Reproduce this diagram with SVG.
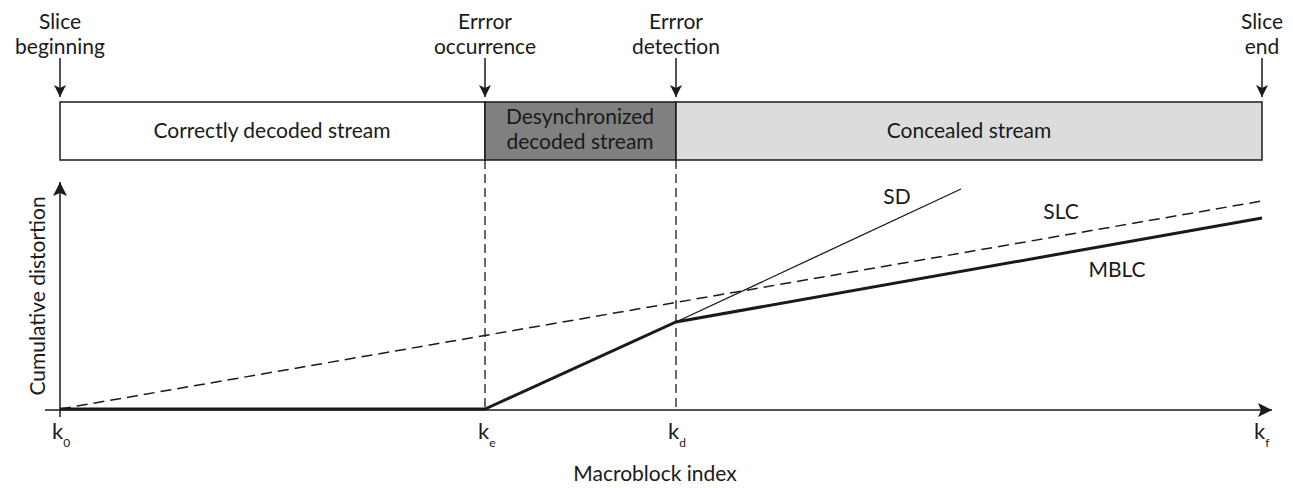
<svg xmlns="http://www.w3.org/2000/svg" width="1293" height="488" viewBox="0 0 1293 488">
<defs>
<marker id="ah" viewBox="0 0 12 12" refX="12" refY="6" markerWidth="12" markerHeight="12" markerUnits="userSpaceOnUse" orient="auto">
<path d="M0,0 L12,6 L0,12 L3,6 Z" fill="#1a1a1a"/>
</marker>
<marker id="ahs" viewBox="0 0 14 14" refX="14" refY="7" markerWidth="14" markerHeight="14" markerUnits="userSpaceOnUse" orient="auto">
<path d="M0,0 L14,7 L0,14 L3,7 Z" fill="#1a1a1a"/>
</marker>
</defs>
<style>
text{font-family:Lato,"Open Sans","Liberation Sans",sans-serif;fill:#1a1a1a;font-size:21px}
.c{text-anchor:middle}
.k{font-size:22px}
.sub{font-size:12px}
.ln{stroke:#1a1a1a;fill:none}
.box{stroke:#1a1a1a;stroke-width:1.5}
</style>
<rect width="1293" height="488" fill="#fff"/>

<g id="bar-correct">
<rect class="box" x="60" y="102" width="425" height="58" fill="#fff"/>
<text class="c" x="272" y="138">Correctly decoded stream</text>
</g>
<g id="bar-desync">
<rect class="box" x="485" y="102" width="191" height="58" fill="#808080"/>
<text class="c" x="580" y="124">Desynchronized</text>
<text class="c" x="580" y="149">decoded stream</text>
</g>
<g id="bar-concealed">
<rect class="box" x="676" y="102" width="586" height="58" fill="#dcdcdc"/>
<text class="c" x="969" y="138">Concealed stream</text>
</g>

<g id="label-slice-begin">
<text class="c" x="60" y="29">Slice</text>
<text class="c" x="60" y="54">beginning</text>
</g>
<g id="label-error-occ">
<text class="c" x="485" y="29">Errror</text>
<text class="c" x="485" y="54">occurrence</text>
</g>
<g id="label-error-det">
<text class="c" x="676" y="29">Errror</text>
<text class="c" x="676" y="54">detection</text>
</g>
<g id="label-slice-end">
<text class="c" x="1262" y="29">Slice</text>
<text class="c" x="1262" y="54">end</text>
</g>

<g id="connectors">
<line class="ln" x1="60" y1="58" x2="60" y2="97" stroke-width="1.5" marker-end="url(#ah)"/>
<line class="ln" x1="485" y1="58" x2="485" y2="97" stroke-width="1.5" marker-end="url(#ah)"/>
<line class="ln" x1="676" y1="58" x2="676" y2="97" stroke-width="1.5" marker-end="url(#ah)"/>
<line class="ln" x1="1262" y1="58" x2="1262" y2="97" stroke-width="1.5" marker-end="url(#ah)"/>
<line class="ln" x1="485" y1="160" x2="485" y2="409" stroke-width="1.3" stroke-dasharray="9,5"/>
<line class="ln" x1="676" y1="160" x2="676" y2="409" stroke-width="1.3" stroke-dasharray="9,5"/>
</g>

<g id="axes">
<line class="ln" x1="60" y1="417" x2="60" y2="182" stroke-width="1.5" marker-end="url(#ahs)"/>
<line class="ln" x1="45" y1="410" x2="1272" y2="410" stroke-width="1.5" marker-end="url(#ahs)"/>
<text class="c" transform="translate(45,296) rotate(-90)">Cumulative distortion</text>
<text class="c" x="655" y="481">Macroblock index</text>
<text class="k" x="52" y="439">k<tspan class="sub" dy="8">0</tspan></text>
<text class="k" x="478" y="439">k<tspan class="sub" dy="8">e</tspan></text>
<text class="k" x="668" y="439">k<tspan class="sub" dy="8">d</tspan></text>
<text class="k" x="1254" y="439">k<tspan class="sub" dy="8">f</tspan></text>
</g>

<g id="curve-sd">
<line class="ln" x1="676" y1="322" x2="961" y2="189" stroke-width="1.3"/>
<text class="c" x="897" y="204">SD</text>
</g>
<g id="curve-slc">
<line class="ln" x1="60" y1="409" x2="1262" y2="201" stroke-width="1.5" stroke-dasharray="11,6"/>
<text class="c" x="1061" y="219">SLC</text>
</g>
<g id="curve-mblc">
<polyline class="ln" points="60,409 485,409 676,322 1262,218" stroke-width="3"/>
<text class="c" x="1117" y="277">MBLC</text>
</g>
</svg>
